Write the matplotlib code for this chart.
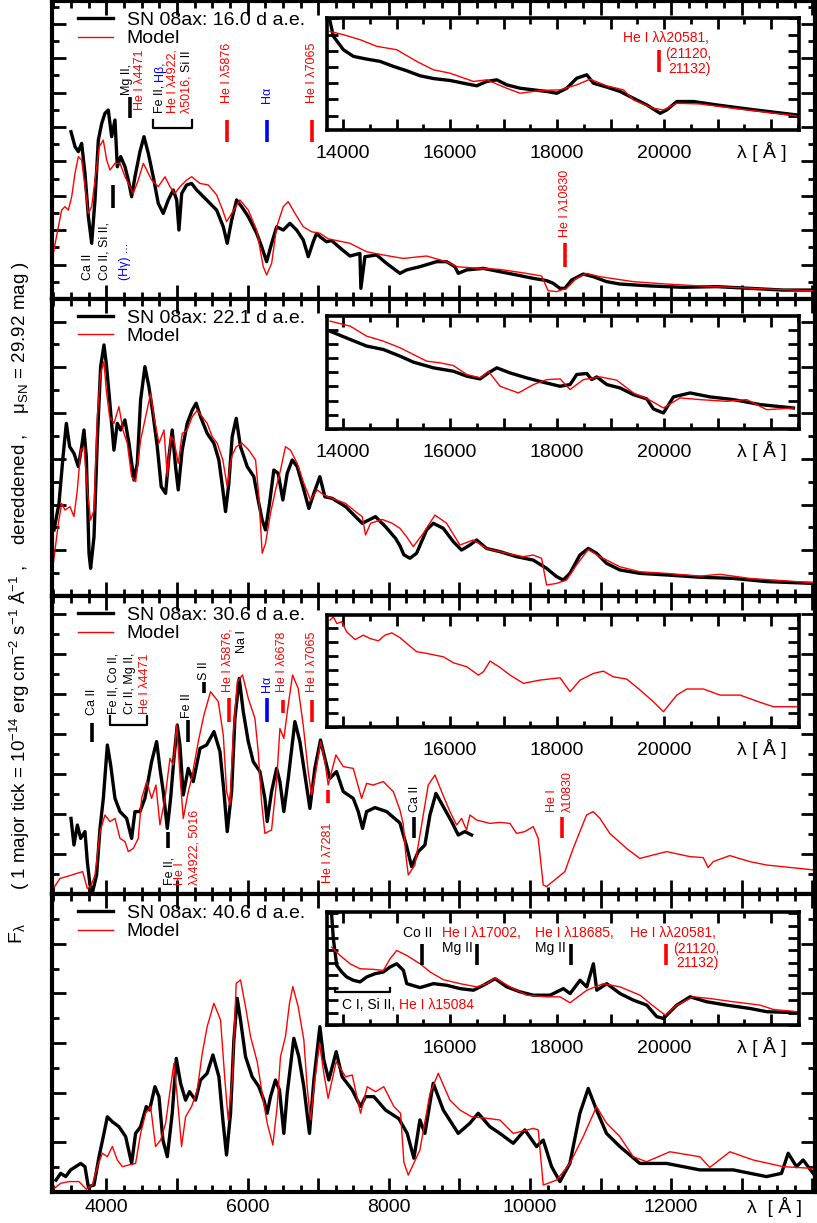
import numpy as np
import matplotlib.pyplot as plt
from matplotlib.ticker import MultipleLocator, FuncFormatter
from matplotlib.transforms import blended_transform_factory

plt.rcParams['font.family'] = ['Liberation Sans', 'DejaVu Sans']
plt.rcParams['mathtext.fontset'] = 'custom'
plt.rcParams['mathtext.rm'] = 'Liberation Sans'
plt.rcParams['mathtext.default'] = 'regular'

# ---- data (flux in tick units of each panel) ----
# 16.0 d
w16_obs = [3499, 3556, 3603, 3650, 3697, 3745, 3792, 3839, 3886, 3934, 3980, 4027, 4075, 4122, 4155, 4203, 4264, 4311,
           4358, 4405, 4476, 4533, 4594, 4664, 4735, 4806, 4877, 4948, 4996, 5028, 5067, 5137, 5208, 5279, 5420, 5562,
           5656, 5712, 5775, 5845, 5916, 6010, 6129, 6200, 6270, 6341, 6412, 6506, 6600, 6695, 6789, 6860, 6930, 6978,
           7025, 7120, 7190, 7330, 7450, 7591, 7605, 7662, 7828, 7969, 8158, 8252, 8441, 8677, 8819, 8937, 8984, 9102,
           9338, 9574, 9810, 10046, 10235, 10330, 10424, 10494, 10589, 10754, 10896, 11085, 11274, 11698, 12170, 12642,
           13114, 13586, 14010]
f16_obs = [9.73, 8.86, 8.57, 9.05, 7.31, 4.79, 3.24, 5.76, 9.24, 10.21, 10.8, 10.99, 9.44, 10.41, 7.69, 8.28, 7.69, 6.92,
           5.95, 7.11, 8.57, 9.44, 8.47, 7.11, 5.56, 4.98, 5.76, 6.34, 5.76, 4.01, 6.14, 6.63, 6.72, 6.34, 5.76, 5.17,
           4.2, 3.24, 4.59, 5.76, 5.37, 4.79, 3.82, 3.04, 2.17, 3.24, 4.2, 4.01, 4.4, 4.01, 3.43, 2.46, 3.33, 3.82,
           3.62, 3.33, 3.4, 2.9, 2.5, 2.65, 0.62, 2.46, 2.56, 2.07, 1.49, 1.69, 1.88, 2.17, 2.17, 1.88, 1.49, 1.69,
           1.78, 1.59, 1.40, 1.20, 1.07, 0.91, 0.62, 0.62, 1.10, 1.45, 1.30, 1.01, 0.87, 0.76, 0.68, 0.72,
           0.62, 0.52, 0.52]
w16_mod = [3249, 3320, 3367, 3414, 3461, 3509, 3556, 3603, 3650, 3697, 3744, 3792, 3839, 3900, 3956, 4005, 4051, 4122,
           4193, 4264, 4334, 4381, 4452, 4523, 4571, 4641, 4735, 4830, 4901, 4972, 5042, 5137, 5208, 5326, 5444, 5562,
           5647, 5703, 5775, 5892, 6010, 6129, 6222, 6270, 6341, 6412, 6506, 6576, 6671, 6789, 6907, 7025, 7143, 7450,
           7686, 7922, 8205, 8536, 8819, 8960, 9291, 9574, 9951, 10164, 10258, 10376, 10518, 10659, 10801, 10990,
           11462, 11934, 12406, 12878, 13350, 14010]
f16_mod = [2.66, 4.2, 5.17, 5.37, 5.17, 5.95, 7.31, 8.28, 8.08, 6.53, 4.98, 5.37, 6.92, 8.86, 9.24, 8.08, 7.50, 7.89,
           7.89, 7.11, 6.53, 6.14, 6.92, 7.89, 7.50, 6.92, 6.53, 7.11, 6.53, 6.14, 6.53, 6.92, 7.11, 6.72, 6.63, 6.05,
           5.17, 4.5, 4.98, 5.76, 5.17, 4.01, 1.88, 1.40, 2.07, 4.2, 5.37, 5.66, 4.98, 4.2, 3.91, 3.82, 3.5, 3.24,
           2.75, 2.56, 2.36, 2.50, 2.17, 1.88, 1.78, 1.72, 1.49, 1.34, 0.48, 0.43, 0.62, 1.20, 1.49, 1.30,
           1.01, 0.87, 0.76, 0.68, 0.58, 0.48]
w16_obs_ir = [13757, 13819, 14006, 14193, 14442, 14691, 14940, 15189, 15439, 15688, 16000, 16312, 16498, 16685, 16872,
              17059, 17308, 17557, 17806, 17993, 18180, 18367, 18554, 18679, 18928, 19177, 19426, 19676, 19925, 20049,
              20236, 20547, 20983, 21605, 22478]
f16_obs_ir = [5.83, 4.9, 4.07, 3.66, 3.49, 3.35, 3.04, 2.77, 2.46, 2.29, 2.17, 1.96, 1.84, 2.11, 2.21,
              1.90, 1.69, 1.59, 1.49, 1.38, 1.69, 2.31, 2.52, 2.0, 1.76, 1.49, 1.07, 0.66, 0.14, 0.35,
              0.87, 0.87, 0.66, 0.39, 0.04]
w16_mod_ir = [13757, 14006, 14318, 14629, 15003, 15376, 15688, 16000, 16436, 16685, 17059, 17308, 17682, 18055, 18367,
              18616, 18928, 19240, 19426, 19800, 19987, 20236, 20672, 21294, 22478]
f16_mod_ir = [5.2, 5.0, 4.69, 4.28, 4.07, 3.35, 2.83, 2.62, 2.11, 2.21, 1.69, 1.38, 1.55, 1.59, 1.9,
              2.25, 1.84, 1.59, 0.97, 0.45, 0.35, 0.76, 0.72, 0.45, -0.02]

# 22.1 d
w22_obs = [3259, 3329, 3386, 3433, 3480, 3541, 3603, 3650, 3683, 3716, 3754, 3777, 3825, 3872, 3919, 3966, 3999, 4046,
           4107, 4155, 4202, 4263, 4320, 4391, 4438, 4485, 4546, 4603, 4659, 4721, 4777, 4839, 4886, 4933, 4980, 5018,
           5074, 5145, 5216, 5272, 5334, 5428, 5523, 5593, 5650, 5688, 5735, 5782, 5839, 5900, 5995, 6089, 6150, 6207,
           6254, 6311, 6372, 6434, 6500, 6561, 6632, 6703, 6797, 6868, 6939, 7024, 7095, 7199, 7388, 7529, 7624, 7812,
           7954, 8096, 8158, 8214, 8300, 8394, 8536, 8630, 8772, 8913, 9031, 9149, 9244, 9385, 9574, 9810, 10046,
           10235, 10376, 10471, 10565, 10707, 10825, 10943, 11084, 11273, 11556, 11934, 12406, 12878, 13350, 14011]
f22_obs = [2.89, 4.05, 6.09, 7.55, 6.53, 6.24, 5.66, 6.53, 7.26, 6.09, 1.87, 1.21, 2.59, 6.82, 10.03, 10.98, 10.17, 8.57,
           6.38, 7.55, 7.26, 7.70, 6.68, 5.07, 5.80, 8.57, 10.03, 9.15, 7.99, 6.53, 4.78, 4.49, 6.09, 7.26, 5.66, 4.64,
           6.38, 7.55, 8.13, 8.43, 7.84, 7.11, 6.68, 5.95, 4.64, 3.69, 4.93, 6.97, 7.77, 6.53, 5.66, 5.22, 4.2, 3.32,
           2.89, 4.05, 5.51, 5.36, 4.2, 5.36, 5.95, 5.66, 4.64, 3.83, 4.49, 5.22, 4.34, 4.27, 3.91, 3.47, 3.18, 3.47,
           3.03, 2.52, 2.2, 1.80, 1.65, 1.87, 2.89, 3.18, 2.96, 2.38, 2.01, 2.23, 2.45, 2.08, 1.94, 1.72, 1.57,
           1.21, 0.85, 0.70, 0.99, 1.79, 2.08, 1.87, 1.43, 1.14, 0.99, 0.92, 0.82, 0.77, 0.63, 0.55]
w22_mod = [3249, 3320, 3367, 3414, 3485, 3541, 3589, 3636, 3683, 3730, 3777, 3825, 3872, 3919, 3966, 3999, 4046, 4107,
           4178, 4235, 4296, 4358, 4415, 4485, 4556, 4627, 4674, 4745, 4816, 4863, 4910, 4957, 5018, 5074, 5145, 5216,
           5287, 5357, 5428, 5499, 5570, 5650, 5711, 5773, 5839, 5924, 6018, 6113, 6160, 6207, 6254, 6325, 6396, 6467,
           6537, 6608, 6703, 6797, 6891, 6986, 7080, 7199, 7388, 7529, 7624, 7671, 7742, 7907, 8049, 8158, 8250, 8347,
           8488, 8654, 8819, 9008, 9196, 9385, 9668, 9904, 10046, 10164, 10235, 10376, 10518, 10660, 10825, 10990,
           11273, 11556, 11934, 12406, 12689, 13114, 13586, 14011]
f22_mod = [1.43, 3.18, 4.05, 3.76, 3.91, 3.47, 4.64, 6.38, 6.53, 4.64, 3.32, 3.76, 7.84, 9.74, 10.25, 9.01, 7.84, 7.55,
           8.28, 7.26, 6.68, 5.22, 5.00, 6.82, 7.84, 8.86, 7.84, 6.68, 7.26, 5.22, 6.97, 6.82, 5.80, 7.11, 7.26, 7.84,
           8.13, 7.84, 7.55, 6.97, 6.68, 5.95, 4.78, 6.09, 6.53, 6.68, 6.38, 5.95, 4.34, 1.87, 2.30, 3.62, 4.64, 5.51,
           6.53, 6.38, 5.80, 4.93, 4.20, 4.64, 4.42, 4.27, 4.05, 3.69, 3.47, 2.67, 3.18, 3.35, 3.18, 2.96, 2.6, 2.16,
           2.74, 3.54, 3.18, 2.23, 2.45, 2.08, 1.87, 1.72, 1.79, 1.65, 0.48, 0.55, 0.70, 1.36, 2.04, 1.72,
           1.28, 1.06, 0.99, 0.87, 0.95, 0.77, 0.67, 0.58]
w22_obs_ir = [13757, 14131, 14442, 14754, 15065, 15314, 15688, 16062, 16311, 16560, 16716, 16872, 17121, 17432, 17744,
              18055, 18242, 18367, 18554, 18647, 18741, 18928, 19177, 19426, 19676, 19800, 19987, 20174, 20485, 20859,
              21295, 21793, 22416]
f22_obs_ir = [6.89, 6.31, 5.84, 5.6, 5.13, 4.71, 4.31, 4.07, 3.72, 3.53, 3.95, 4.31, 3.95, 3.6, 3.29,
              3.01, 3.13, 3.84, 3.91, 3.48, 3.67, 3.13, 2.89, 2.42, 2.12, 1.41, 1.13, 2.26, 2.54, 2.26,
              2.07, 1.72, 1.48]
w22_mod_ir = [13757, 14131, 14442, 14754, 15065, 15314, 15563, 15813, 16062, 16311, 16560, 16716, 16934, 17276, 17557,
              17806, 18055, 18242, 18491, 18803, 19114, 19426, 19738, 19987, 20298, 20672, 21170, 21544, 21918, 22416]
f22_mod_ir = [7.6, 7.25, 6.54, 6.19, 5.72, 5.25, 4.78, 4.66, 4.47, 3.84, 3.6, 4.07, 3.01, 2.54, 3.13,
              3.48, 3.53, 2.78, 3.48, 3.67, 3.44, 2.54, 2.02, 1.48, 2.19, 2.07, 1.95, 2.07, 1.36, 1.48]

# 30.6 d
w30_obs = [3499, 3541, 3589, 3636, 3697, 3730, 3768, 3806, 3862, 3910, 3957, 4014, 4061, 4122, 4193, 4287, 4358, 4405,
           4476, 4546, 4641, 4712, 4759, 4806, 4863, 4910, 4957, 5004, 5042, 5089, 5160, 5231, 5326, 5420, 5524, 5609,
           5665, 5712, 5774, 5821, 5882, 5939, 6010, 6080, 6175, 6245, 6278, 6340, 6411, 6458, 6514, 6576, 6670, 6741,
           6812, 6883, 6953, 7033, 7095, 7166, 7260, 7355, 7497, 7568, 7629, 7686, 7804, 7970, 8158, 8252, 8323, 8418,
           8512, 8583, 8668, 8772, 8890, 8984, 9078, 9173]
f30_obs = [3.78, 2.45, 3.45, 2.78, 3.12, 1.62, 0.45, 0.12, 0.95, 3.28, 4.78, 7.45, 6.45, 4.78, 4.12, 3.78, 2.78, 4.12,
           4.12, 4.78, 6.62, 7.62, 6.28, 5.12, 3.28, 4.78, 6.78, 8.45, 7.45, 4.95, 6.28, 5.62, 7.28, 7.45, 8.12, 7.12,
           5.12, 3.12, 5.12, 8.78, 10.78, 9.12, 7.62, 6.62, 6.12, 4.78, 3.62, 5.12, 6.28, 5.62, 4.12, 5.78, 8.62, 7.62,
           5.95, 4.28, 6.28, 7.70, 6.78, 5.78, 6.12, 5.12, 4.78, 4.12, 3.28, 4.12, 4.32, 4.12, 3.55, 2.4, 1.37, 2.12,
           2.45, 3.95, 5.03, 4.37, 3.62, 2.95, 3.12, 2.95]
w30_mod = [3249, 3343, 3438, 3579, 3664, 3730, 3777, 3839, 3910, 3980, 4051, 4122, 4193, 4264, 4311, 4381, 4452, 4499,
           4570, 4641, 4702, 4759, 4830, 4901, 4948, 4996, 5042, 5089, 5160, 5208, 5302, 5382, 5476, 5585, 5656, 5703,
           5750, 5797, 5854, 5929, 6010, 6104, 6151, 6198, 6245, 6340, 6411, 6458, 6514, 6576, 6637, 6717, 6788, 6859,
           6906, 6967, 7033, 7095, 7142, 7251, 7355, 7497, 7615, 7686, 7780, 7922, 8064, 8158, 8205, 8240, 8276, 8370,
           8465, 8559, 8654, 8748, 8866, 8961, 9031, 9102, 9149, 9244, 9432, 9574, 9716, 9810, 9928, 10046, 10117,
           10188, 10235, 10376, 10494, 10612, 10801, 10896, 10990, 11131, 11367, 11556, 11934, 12264, 12453, 12524,
           12595, 12831, 13114, 13350, 14030]
f30_mod = [0.28, 0.78, 0.87, 1.03, 1.12, 0.28, 0.37, 0.95, 3.12, 3.95, 3.62, 3.78, 2.78, 2.62, 2.12, 2.28, 2.78, 4.78,
           5.62, 4.78, 5.45, 3.45, 4.78, 6.78, 6.45, 8.45, 5.95, 3.78, 5.12, 5.78, 7.62, 8.95, 10.12, 9.62, 7.95, 5.12,
           4.45, 7.95, 10.62, 10.95, 9.78, 8.78, 7.12, 4.62, 3.03, 3.20, 5.62, 8.28, 7.78, 9.45, 10.95, 10.28, 8.45, 6.12,
           4.95, 6.12, 7.62, 6.62, 5.45, 6.95, 6.37, 6.28, 4.78, 5.53, 5.45, 5.62, 5.12, 4.2, 3.5, 2.0, 0.95, 1.45,
           3.45, 5.45, 5.95, 5.12, 4.12, 3.45, 3.78, 3.20, 3.95, 3.70, 3.53, 3.58, 3.53, 3.03, 3.12, 3.37, 2.78,
           0.45, 0.37, 0.78, 1.12, 2.28, 3.95, 4.12, 3.78, 3.03, 2.28, 1.78, 2.12, 1.87, 1.82, 1.32,
           1.62, 1.92, 1.62, 1.45, 1.2]
w30_mod_ir = [13757, 13819, 13882, 13975, 14068, 14224, 14380, 14505, 14660, 14785, 14910, 15065, 15190, 15377, 15564,
              15719, 15875, 16062, 16311, 16529, 16623, 16747, 16934, 17121, 17370, 17682, 18055, 18242, 18429, 18678,
              18865, 19052, 19301, 19550, 19800, 19987, 20236, 20423, 20734, 21046, 21420, 21793, 22042, 22479]
f30_mod_ir = [7.54, 7.77, 7.3, 7.42, 6.71, 6.17, 6.48, 6.24, 6.08, 6.48, 6.64, 6.3, 5.89, 5.31, 5.19,
              5.07, 4.95, 4.53, 4.25, 3.66, 3.9, 4.65, 4.2, 3.66, 3.08, 3.31, 3.47, 2.49, 3.31, 3.78,
              3.94, 3.54, 3.38, 2.61, 1.78, 1.08, 2.25, 2.68, 2.68, 2.25, 2.25, 1.74, 1.43, 1.43]

# 40.6 d
w40_obs = [3287, 3353, 3424, 3494, 3565, 3636, 3697, 3744, 3825, 3896, 3966, 4014, 4084, 4178, 4273, 4358, 4414, 4485,
           4565, 4612, 4688, 4745, 4801, 4863, 4933, 4990, 5051, 5122, 5178, 5263, 5334, 5428, 5509, 5594, 5650, 5702,
           5759, 5806, 5853, 5900, 5971, 6065, 6160, 6231, 6278, 6325, 6395, 6452, 6514, 6561, 6655, 6726, 6797, 6877,
           6939, 7024, 7080, 7151, 7255, 7340, 7482, 7600, 7671, 7789, 7954, 8143, 8261, 8356, 8441, 8512, 8630, 8772,
           8984, 9149, 9267, 9432, 9574, 9763, 9928, 10093, 10188, 10306, 10424, 10565, 10707, 10825, 10943, 11084,
           11273, 11556, 11934, 12406, 12878, 13350, 13562, 13657, 13775, 13869, 14011]
f40_obs = [0.48, 0.75, 0.62, 0.89, 1.02, 1.15, 1.02, 0.21, 0.28, 1.42, 2.36, 3.03, 2.83, 2.63, 2.23, 1.15, 2.36, 2.63,
           3.44, 3.30, 4.24, 3.84, 2.09, 1.42, 3.17, 5.38, 4.38, 3.70, 4.04, 3.70, 4.51, 4.78, 5.52, 4.64, 2.90, 1.49,
           3.17, 6.12, 7.80, 6.93, 5.45, 4.64, 4.24, 3.70, 3.17, 3.84, 4.51, 4.11, 2.36, 3.97, 6.19, 5.45, 4.24, 2.36,
           4.51, 6.66, 5.32, 4.51, 5.65, 4.64, 4.11, 3.44, 3.84, 3.84, 3.30, 2.95, 2.36, 1.36, 2.90, 2.36, 4.38, 3.30,
           2.36, 2.77, 3.17, 2.63, 2.36, 1.96, 2.50, 1.83, 2.09, 1.02, 0.42, 1.15, 3.17, 4.17, 3.30, 2.36,
           1.83, 1.15, 1.15, 0.89, 0.89, 0.62, 0.75, 1.56, 1.02, 1.29, 0.75]
w40_mod = [3263, 3353, 3471, 3612, 3716, 3800, 3872, 3943, 4014, 4084, 4155, 4226, 4320, 4414, 4485, 4556, 4627, 4697,
           4768, 4839, 4910, 4957, 5004, 5065, 5122, 5207, 5287, 5358, 5428, 5523, 5617, 5679, 5726, 5783, 5839, 5900,
           5971, 6042, 6136, 6207, 6278, 6358, 6419, 6466, 6537, 6594, 6641, 6717, 6797, 6844, 6891, 6953, 7019, 7080,
           7141, 7255, 7388, 7482, 7600, 7695, 7812, 7930, 8072, 8167, 8214, 8276, 8441, 8583, 8701, 8866, 9008, 9173,
           9385, 9574, 9763, 10046, 10117, 10188, 10376, 10565, 10754, 10943, 11084, 11273, 11462, 11651, 11981,
           12406, 12547, 12831, 13161, 13586, 14011]
f40_mod = [0.15, 0.35, 0.42, 0.42, 0.11, 0.28, 1.02, 1.56, 1.42, 1.83, 1.29, 1.02, 1.09, 1.15, 2.36, 3.17, 3.44, 1.83,
           2.09, 2.77, 4.24, 5.18, 3.84, 1.83, 3.03, 3.44, 4.11, 5.58, 6.66, 7.60, 6.93, 4.51, 2.90, 4.51, 8.40, 8.54,
           7.46, 6.26, 5.25, 3.97, 2.77, 1.89, 3.44, 5.45, 6.26, 7.60, 8.27, 7.46, 6.12, 4.24, 2.90, 4.51, 5.99, 4.78,
           3.77, 5.25, 4.64, 4.71, 3.17, 4.24, 4.04, 4.24, 3.44, 3.17, 1.2, 0.68, 1.69, 3.97, 4.78, 3.70, 3.30, 3.03,
           2.97, 2.90, 2.36, 2.56, 2.50, 0.28, 0.48, 1.15, 2.23, 3.44, 2.77, 2.23, 1.42, 1.22, 1.62,
           1.42, 0.99, 1.62, 1.29, 1.02, 0.95]
w40_obs_ir = [13788, 13819, 13882, 13975, 14068, 14193, 14318, 14442, 14598, 14754, 14878, 15003, 15128, 15190, 15439,
              15688, 15937, 16186, 16436, 16623, 16841, 17059, 17308, 17557, 17868, 18118, 18242, 18429, 18554, 18678,
              18741, 18928, 19177, 19426, 19675, 19862, 19987, 20236, 20485, 20797, 21170, 21606, 21918, 22479]
f40_obs_ir = [8.8, 6.93, 4.8, 4.27, 3.87, 3.6, 3.47, 3.87, 4.13, 4.27, 4.67, 4.93, 4.4, 3.33, 3.01,
              3.33, 3.2, 2.93, 2.8, 3.2, 3.73, 3.07, 2.67, 2.4, 2.4, 2.93, 2.53, 3.6, 3.07, 4.93,
              2.8, 3.33, 2.53, 2.0, 1.6, 0.67, 0.53, 1.6, 2.27, 1.87, 1.6, 1.33, 1.07, 0.99]
w40_mod_ir = [13788, 13944, 14131, 14318, 14567, 14754, 14878, 15003, 15190, 15439, 15626, 15875, 16186, 16498, 16685,
              16841, 17121, 17432, 17806, 18055, 18242, 18554, 18865, 19177, 19550, 19800, 20018, 20236, 20547, 20859,
              21295, 21793, 22042, 22479]
f40_mod_ir = [6.27, 5.6, 4.93, 4.53, 4.48, 4.4, 5.33, 6.0, 5.6, 4.93, 4.27, 3.65, 3.33, 3.07, 3.33,
              3.81, 3.07, 2.4, 2.27, 2.27, 1.79, 2.8, 3.33, 3.07, 2.4, 1.52, 0.8, 1.6, 2.27, 2.13,
              1.87, 1.6, 1.25, 1.07]

epochs = ['16.0', '22.1', '30.6', '40.6']

# ---- line identifications: (wavelength, flux, [(text, colour), ...]) ----
ids16 = [(3740, 1.10, [('Ca II', 'k')]), (3980, 1.10, [('Co II, Si II,', 'k')]), (4264, 1.10, [('(Hγ) ...', 'blue')]),
         (4292, 11.86, [('Mg II,', 'k')]), (4476, 10.99, [('He I λ4471', 'red')]),
         (4759, 10.81, [('Fe II, ', 'k'), ('Hβ,', 'blue')]), (4943, 10.81, [('He I λ4922,', 'red')]),
         (5141, 10.81, [('λ5016, ', 'red'), ('Si II', 'k')]), (5708, 11.40, [('He I λ5876', 'red')]),
         (6274, 11.40, [('Hα', 'blue')]), (6912, 11.40, [('He I λ7065', 'red')]),
         (10494, 3.60, [('He I λ10830', 'red')])]
marks16 = [(4098, 5.29, 6.63, 'k'), (4334, 10.52, 11.74, 'k'), (5708, 9.13, 10.41, 'red'),
           (6274, 9.13, 10.41, 'blue'), (6907, 9.13, 10.41, 'red'), (10494, 1.86, 3.26, 'red')]
brackets16 = [(4660, 5212, 9.94, 10.41)]

ids30 = [(3792, 8.95, [('Ca II', 'k')]), (4094, 9.0, [('Fe II, Co II,', 'k')]), (4334, 9.0, [('Cr II, Mg II,', 'k')]),
         (4547, 9.0, [('He I λ4471', 'red')]), (5141, 8.8, [('Fe II', 'k')]), (5382, 10.7, [('S II', 'k')]),
         (5722, 10.1, [('He I λ5876,', 'red')]), (5920, 12.05, [('Na I', 'k')]), (6274, 10.1, [('Hα', 'blue')]),
         (6487, 10.1, [('He I λ6678', 'red')]), (6912, 10.1, [('He I λ7065', 'red')]),
         (4901, 0.45, [('Fe II,', 'k')]), (5042, 0.45, [('He I', 'red')]), (5255, 0.45, [('λλ4922, 5016', 'red')]),
         (7138, 0.55, [('He I λ7281', 'red')]), (8370, 4.1, [('Ca II', 'k')]),
         (10306, 4.1, [('He I', 'red')]), (10536, 4.1, [('λ10830', 'red')])]
marks30 = [(3792, 7.6, 8.55, 'k'), (5156, 7.6, 8.7, 'k'), (5382, 10.05, 10.6, 'k'), (5736, 8.6, 9.8, 'red'),
           (6274, 8.6, 9.8, 'blue'), (6501, 9.05, 9.7, 'red'), (6912, 8.6, 9.7, 'red'), (4870, 2.3, 3.1, 'k'),
           (7143, 4.55, 5.2, 'red'), (8356, 2.8, 3.85, 'k'), (10452, 2.8, 3.85, 'red')]
brackets30 = [(4051, 4575, 8.45, 8.9)]

ids16_ir = [(19233, 4.82, [('He I λλ20581,', 'red')]), (20018, 3.82, [('(21120,', 'red')]),
            (20074, 2.89, [('21132)', 'red')])]
marks16_ir = [(19906, 2.71, 4.07, 'red')]

ids40_ir = [(15121, 7.44, [('Co II', 'k')]), (15850, 7.44, [('He I λ17002,', 'red')]), (15850, 6.24, [('Mg II', 'k')]),
            (17588, 7.44, [('He I λ18685,', 'red')]), (17588, 6.24, [('Mg II', 'k')]),
            (19364, 7.44, [('He I λλ20581,', 'red')]), (20168, 6.16, [('(21120,', 'red')]),
            (20224, 4.96, [('21132)', 'red')]),
            (13981, 1.6, [('C I, Si II, ', 'k'), ('He I λ15084', 'red')])]
marks40_ir = [(15471, 4.8, 6.56, 'k'), (16507, 4.8, 6.56, 'k'), (18262, 4.8, 6.56, 'k'), (20037, 4.8, 6.56, 'red')]
brackets40_ir = [(13850, 14878, 2.64, 2.96)]

W, H = 817, 1223
fig = plt.figure(figsize=(W / 100, H / 100), dpi=100)


def box(l, t, r, b):
    return [l / W, 1 - b / H, (r - l) / W, (b - t) / H]


def vlabels(ax, ids, size=9):
    for lam, v, parts in ids:
        prev = None
        for s, c in parts:
            if prev is None:
                prev = ax.text(lam, v, s, color=c, fontsize=size, rotation=90, rotation_mode='anchor',
                               ha='left', va='center')
            else:
                prev = ax.annotate(s, xy=(lam, 1.0), xycoords=('data', prev), color=c, fontsize=size,
                                   rotation=90, rotation_mode='anchor', ha='left', va='center')


def hlabels(ax, ids, size=10):
    for lam, v, parts in ids:
        prev = None
        for s, c in parts:
            if prev is None:
                prev = ax.text(lam, v, s, color=c, fontsize=size, ha='left', va='center')
            else:
                prev = ax.annotate(s, xy=(1.0, v), xycoords=(prev, 'data'), color=c, fontsize=size,
                                   ha='left', va='center')


def draw_marks(ax, marks, brackets):
    for lam, v0, v1, c in marks:
        ax.plot([lam, lam], [v0, v1], color=c, lw=2.6, solid_capstyle='butt')
    for l0, l1, vb, vt in brackets:
        ax.plot([l0, l0, l1, l1], [vt, vb, vb, vt], color='k', lw=1.6)


main_fmt = FuncFormatter(lambda x, p: '%d' % x if (int(round(x)) % 2000 == 0 and x < 13000) else '')
ir_fmt = FuncFormatter(lambda x, p: '%d' % x if (int(round(x)) % 2000 == 0 and x < 21000) else '')
ir_fmt2 = FuncFormatter(lambda x, p: '%d' % x if (int(round(x)) % 2000 == 0 and 15000 < x < 21000) else '')

tops = [1, 299, 596, 894]
bots = [299, 596, 894, 1192]
ylims = [17.33, 12.99, 14.9, 12.0]
ins_tb = [(18, 130), (316, 429), (615, 727), (912, 1025)]
ins_ylim = [(-0.89, 6.03), (0, 7.96), (0, 7.9), (0, 9.1)]
obs = [(w16_obs, f16_obs), (w22_obs, f22_obs), (w30_obs, f30_obs), (w40_obs, f40_obs)]
mod = [(w16_mod, f16_mod), (w22_mod, f22_mod), (w30_mod, f30_mod), (w40_mod, f40_mod)]
obs_ir = [(w16_obs_ir, f16_obs_ir), (w22_obs_ir, f22_obs_ir), None, (w40_obs_ir, f40_obs_ir)]
mod_ir = [(w16_mod_ir, f16_mod_ir), (w22_mod_ir, f22_mod_ir), (w30_mod_ir, f30_mod_ir), (w40_mod_ir, f40_mod_ir)]

for i in range(4):
    ax = fig.add_axes(box(52, tops[i], 815, bots[i]))
    lo, = ax.plot(obs[i][0], obs[i][1], color='k', lw=2.4, solid_joinstyle='round')
    lm, = ax.plot(mod[i][0], mod[i][1], color='red', lw=1.0)
    ax.set_xlim(3230, 14037)
    ax.set_ylim(0, ylims[i])
    ax.xaxis.set_major_locator(MultipleLocator(1000))
    ax.xaxis.set_minor_locator(MultipleLocator(250))
    ax.yaxis.set_major_locator(MultipleLocator(2))
    ax.yaxis.set_minor_locator(MultipleLocator(1))
    ax.xaxis.set_major_formatter(main_fmt)
    ax.tick_params(which='both', direction='in', top=True, right=True, width=2, labelsize=14, pad=5)
    ax.tick_params(which='major', length=10)
    ax.tick_params(which='minor', length=5)
    ax.tick_params(axis='y', labelleft=False)
    if i < 3:
        ax.tick_params(axis='x', labelbottom=False)
    for sp in ax.spines.values():
        sp.set_linewidth(3)
    ax.legend([lo, lm], ['SN 08ax: %s d a.e.' % epochs[i], 'Model'], loc='upper left',
              bbox_to_anchor=(0.034, 0.966), frameon=False, fontsize=14, handlelength=1.8,
              handletextpad=0.7, labelspacing=0.05, borderpad=0, borderaxespad=0)
    if i == 0:
        vlabels(ax, ids16)
        draw_marks(ax, marks16, brackets16)
    if i == 2:
        vlabels(ax, ids30)
        draw_marks(ax, marks30, brackets30)
    if i == 3:
        ax.text(13468, -0.05, 'λ  [ Å ]', transform=blended_transform_factory(ax.transData, ax.transAxes),
                ha='center', va='center', fontsize=14)

    t, b = ins_tb[i]
    axi = fig.add_axes(box(327, t, 799, b))
    if obs_ir[i] is not None:
        axi.plot(obs_ir[i][0], obs_ir[i][1], color='k', lw=2.4, solid_joinstyle='round')
    axi.plot(mod_ir[i][0], mod_ir[i][1], color='red', lw=1.0)
    axi.set_xlim(13700, 22520)
    axi.set_ylim(*ins_ylim[i])
    axi.xaxis.set_major_locator(MultipleLocator(1000))
    axi.xaxis.set_minor_locator(MultipleLocator(500))
    axi.yaxis.set_major_locator(MultipleLocator(1))
    axi.xaxis.set_major_formatter(ir_fmt if i < 2 else ir_fmt2)
    axi.tick_params(which='both', direction='in', top=True, right=True, width=2, labelsize=14, pad=11,
                    labelleft=False)
    axi.tick_params(which='major', length=8)
    axi.tick_params(which='minor', length=4)
    for sp in axi.spines.values():
        sp.set_linewidth(2.6)
    axi.text(21831, -0.196, 'λ [ Å ]', transform=blended_transform_factory(axi.transData, axi.transAxes),
             ha='center', va='center', fontsize=14)
    if i == 0:
        hlabels(axi, ids16_ir)
        draw_marks(axi, marks16_ir, [])
    if i == 3:
        hlabels(axi, ids40_ir)
        draw_marks(axi, marks40_ir, brackets40_ir)

fig.text(20 / W, 1 - 576 / H,
         '( 1 major tick = 10$^{-14}$ erg cm$^{-2}$ s$^{-1}$ Å$^{-1}$ ,    dereddened ,    μ$_{SN}$ = 29.92 mag )',
         rotation=90, ha='center', va='center', fontsize=13.5)
fig.text(17 / W, 1 - 934 / H, 'F$_{λ}$', rotation=90, ha='center', va='center', fontsize=14)

fig.savefig('out.png', dpi=100)
